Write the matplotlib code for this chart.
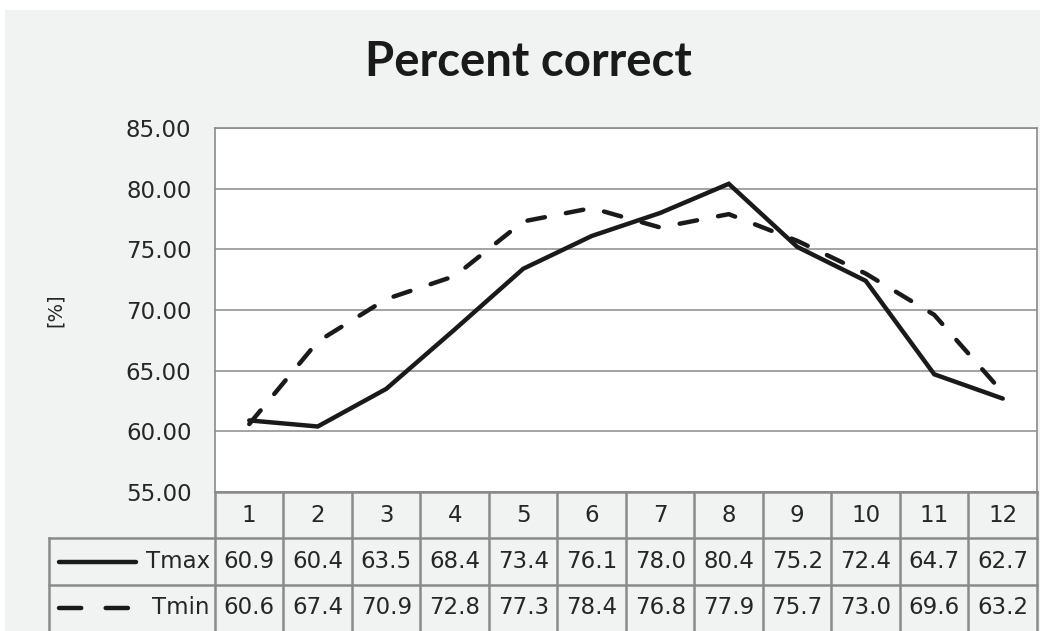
import matplotlib
matplotlib.use("Agg")
import matplotlib.pyplot as plt
from matplotlib.patches import Rectangle

months = [str(i) for i in range(1, 13)]
tmax = [60.9, 60.4, 63.5, 68.4, 73.4, 76.1, 78.0, 80.4, 75.2, 72.4, 64.7, 62.7]
tmin = [60.6, 67.4, 70.9, 72.8, 77.3, 78.4, 76.8, 77.9, 75.7, 73.0, 69.6, 63.2]
yticks = [55, 60, 65, 70, 75, 80, 85]

W, H = 1056, 631
GRID = "#8a8a8a"
BG = "#f1f2f2"
INK = "#1a1a1a"
TXT = "#262626"
LW = 3.2


def box(x0, y0, x1, y1):
    """pixel box (top-left origin) -> figure rect."""
    return [x0 / W, 1 - y1 / H, (x1 - x0) / W, (y1 - y0) / H]


fig = plt.figure(figsize=(W / 100, H / 100), dpi=100, facecolor="white")
fig.patches.append(Rectangle((5 / W, 0), (1040 - 5) / W, 1 - 10 / H, transform=fig.transFigure,
                             facecolor=BG, edgecolor="none", zorder=-5))

# plot area
ax = fig.add_axes(box(215, 128, 1037, 492))
ax.set_facecolor("white")
ax.plot(range(1, 13), tmax, color=INK, lw=LW, solid_joinstyle="miter", solid_capstyle="round", zorder=3)
ax.plot(range(1, 13), tmin, color=INK, lw=LW, dashes=(4, 4.8), dash_capstyle="round", zorder=3)
ax.set_xlim(0.5, 12.5)
ax.set_ylim(55, 85)
ax.set_yticks(yticks)
ax.set_yticklabels([f"{v:.2f}" for v in yticks], fontsize=16.5, color=TXT)
ax.set_xticks([])
ax.tick_params(axis="y", length=0, pad=17)
ax.grid(axis="y", color=GRID, lw=1.1)
for s in ax.spines.values():
    s.set_color(GRID)
    s.set_linewidth(1.2)
ax.set_ylabel("[%]", fontsize=14, color=TXT, labelpad=44)
fig.text(0.5, 1 - 62 / H, "Percent correct", ha="center", va="center",
         fontsize=34, fontweight="bold", family="Lato", color=INK)

# data table underneath, sharing the x scale of the plot
colw = (1037 - 215) / 12
left = 0.5 - (215 - 49) / colw
tab = fig.add_axes(box(49, 492, 1037, 631))
tab.set_xlim(left, 12.5)
tab.set_ylim(3, 0)
tab.axis("off")
tab.patch.set_alpha(0)

lk = dict(color=GRID, lw=1.8, clip_on=False)
tab.plot([0.5, 12.5], [0, 0], **lk)
for r in (1, 2):
    tab.plot([left, 12.5], [r, r], **lk)
tab.plot([left, left], [1, 3], **lk)
for c in range(13):
    tab.plot([c + 0.5, c + 0.5], [0, 3], **lk)

tk = dict(ha="center", va="center", fontsize=16.5, color=TXT)
for i, m in enumerate(months):
    tab.text(i + 1, 0.5, m, **tk)
    tab.text(i + 1, 1.5, f"{tmax[i]:.1f}", **tk)
    tab.text(i + 1, 2.5, f"{tmin[i]:.1f}", **tk)

# row labels with line keys
kx0 = left + (59 - 49) / colw
kx1 = left + (136 - 49) / colw
tab.plot([kx0, kx1], [1.5, 1.5], color=INK, lw=LW, solid_capstyle="round")
tab.plot([kx0, kx1], [2.5, 2.5], color=INK, lw=LW, dashes=(5, 5.5), dash_capstyle="round")
tab.text(0.5 - 5 / colw, 1.5, "Tmax", ha="right", va="center", fontsize=16.5, color=TXT)
tab.text(0.5 - 5 / colw, 2.5, "Tmin", ha="right", va="center", fontsize=16.5, color=TXT)

fig.savefig("out.png", dpi=100, facecolor="white")
